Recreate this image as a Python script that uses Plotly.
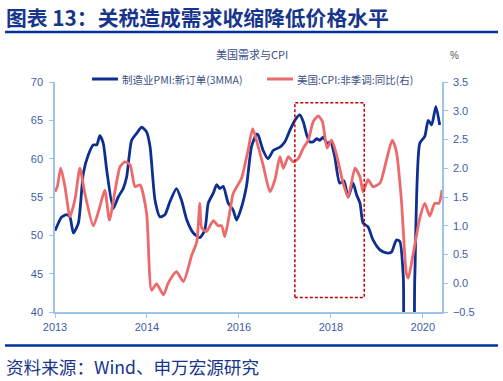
import plotly.graph_objects as go

# ---------------- data ----------------
tick_pos = [0, 24, 48, 72, 96]
tick_labels = ["2013", "2014", "2016", "2018", "2020"]

pmi_x = [0, 1.75, 3.05, 3.9, 4.8, 6.1, 7.4, 8.7, 10.0, 10.9, 11.7, 12.6, 13.5, 15.2, 16.5, 17.8,
         18.7, 20.0, 21.3, 22.6, 23.9, 24.8, 26.1, 27.4, 28.7, 30.0, 31.7, 33.0, 34.4, 36.1,
         37.8, 39.1, 40.0, 41.3, 42.2, 43.0, 43.9, 45.2, 46.5, 47.4, 48.7, 50.0, 51.3, 52.6,
         53.0, 54.3, 55.6, 57.0, 58.7, 60.0, 61.3, 62.6, 63.9, 64.8, 65.7, 66.5, 67.4, 68.3,
         69.1, 70.0, 71.0, 71.9, 73.0, 74.3, 75.4, 76.5, 77.8, 78.7, 79.6, 80.4, 81.7, 83.0,
         84.8, 86.5, 87.8, 89.1, 90.0, 90.9, 91.7, 93.0, 93.9, 95.2, 96.5, 97.4, 98.3, 99.4,
         100.4]
pmi_new_orders = [50.6, 52.4, 52.7, 52.4, 50.3, 51.6, 58.1, 60.5, 61.8, 61.8, 63.0, 62.0, 58.5,
                  53.5, 55.0, 56.1, 57.6, 62.4, 63.3, 64.1, 63.5, 61.6, 54.6, 52.4, 52.7, 54.4,
                  56.1, 54.6, 52.0, 50.3, 49.7, 50.7, 54.2, 55.5, 56.6, 56.1, 56.4, 54.2, 53.3,
                  52.0, 53.7, 56.5, 61.6, 63.2, 63.1, 61.1, 60.0, 61.1, 61.5, 62.2, 63.7, 65.0,
                  65.7, 64.8, 63.1, 62.2, 62.2, 62.6, 62.4, 62.8, 62.0, 62.2, 60.3, 56.8, 57.1,
                  55.0, 56.8, 55.3, 54.2, 51.6, 51.1, 49.4, 48.1, 47.7, 47.8, 49.4, 49.2, 44.6,
                  30.0, 30.0, 44.6, 62.0, 62.9, 65.0, 64.4, 66.8, 64.4]

cpi_x = [0, 0.6, 1.5, 2.6, 3.9, 5.2, 6.5, 7.8, 10.0, 11.7, 13.0, 14.2, 15.7, 17.0, 18.3, 19.6,
         20.9, 22.2, 23.9, 25.2, 26.5, 28.3, 29.6, 31.7, 33.5, 35.7, 37.0, 37.8, 38.3, 39.6,
         41.3, 42.6, 43.5, 44.3, 45.7, 46.5, 48.7, 50.4, 51.6, 53.0, 54.3, 56.1, 57.4, 58.7,
         59.6, 60.9, 62.2, 63.5, 64.8, 66.1, 67.4, 68.7, 69.8, 71.0, 72.2, 73.5, 75.2, 76.5,
         78.3, 79.6, 80.4, 81.7, 83.0, 84.8, 86.5, 88.0, 89.1, 90.4, 91.7, 92.2, 93.5, 95.2,
         96.5, 97.8, 99.1, 100.2, 101.0]
cpi_yoy = [1.59, 1.68, 2.0, 1.68, 1.16, 1.45, 2.0, 1.56, 1.0, 1.33, 1.62, 1.1, 1.62, 2.03, 2.11,
           2.06, 1.68, 1.71, 1.22, -0.12, -0.01, -0.2, 0.01, 0.2, 0.03, 0.49, 0.72, 1.39, 0.96,
           0.9, 1.09, 1.0, 1.0, 0.81, 1.27, 1.56, 1.83, 2.32, 2.69, 2.38, 2.06, 1.59, 1.8, 2.2,
           2.0, 2.2, 2.11, 2.17, 2.35, 2.49, 2.81, 2.91, 2.81, 2.35, 2.49, 2.23, 1.74, 1.5, 2.0,
           1.85, 1.59, 1.8, 1.68, 1.74, 2.14, 2.49, 2.29, 1.45, 0.17, 0.09, 0.52, 1.13, 1.39,
           1.17, 1.39, 1.39, 1.62]

highlight_x = [62.6, 80.7]
highlight_y = [41.9, 67.3]

# ---------------- style ----------------
W, H = 503, 381
L, R, T, B = 55, 442, 82, 312
NAVY = "#0D2F8F"
RED = "#EC6A6C"
AXIS = "#9DC3E6"
TICKC = "#3F5CA8"
CJK = "Noto Sans CJK SC"
LAT = "Liberation Sans, Arial, sans-serif"


def px(xp):
    return (xp - L) / (R - L)


def py(yp):
    return (B - yp) / (B - T)


fig = go.Figure()
fig.add_trace(go.Scatter(x=pmi_x, y=pmi_new_orders, mode="lines", name="制造业PMI:新订单(3MMA)",
                         line=dict(color=NAVY, width=2.8, shape="spline", smoothing=0.6),
                         yaxis="y"))
fig.add_trace(go.Scatter(x=cpi_x, y=cpi_yoy, mode="lines", name="美国:CPI:非季调:同比(右)",
                         line=dict(color=RED, width=2.8, shape="spline", smoothing=0.6),
                         yaxis="y2"))

shapes = [
    dict(type="rect", xref="x", yref="y", x0=highlight_x[0], x1=highlight_x[1],
         y0=highlight_y[0], y1=highlight_y[1],
         line=dict(color="#C00000", width=1.5, dash="3px,2px")),
    # header / footer rules
    dict(type="line", xref="paper", yref="paper", x0=px(5), x1=px(498), y0=py(32), y1=py(32),
         line=dict(color="#00339A", width=2.5)),
    dict(type="line", xref="paper", yref="paper", x0=px(5), x1=px(498), y0=py(345.5), y1=py(345.5),
         line=dict(color="#00339A", width=2.5)),
    # legend samples
    dict(type="line", xref="paper", yref="paper", x0=px(92), x1=px(118), y0=py(79), y1=py(79),
         line=dict(color=NAVY, width=3)),
    dict(type="line", xref="paper", yref="paper", x0=px(267), x1=px(293), y0=py(79), y1=py(79),
         line=dict(color=RED, width=3)),
]

annotations = [
    dict(text="<b>图表 13：关税造成需求收缩降低价格水平</b>", xref="paper", yref="paper",
         x=px(4), y=py(17), xanchor="left", yanchor="middle", showarrow=False,
         font=dict(family=CJK, size=20.8, color="#17358C")),
    dict(text="美国需求与CPI", xref="paper", yref="paper", x=px(252), y=py(54),
         xanchor="center", yanchor="middle", showarrow=False,
         font=dict(family=CJK, size=11, color="#3A4F86")),
    dict(text="%", xref="paper", yref="paper", x=px(455), y=py(55),
         xanchor="center", yanchor="middle", showarrow=False,
         font=dict(family=LAT, size=10, color="#555555")),
    dict(text="制造业PMI:新订单(3MMA)", xref="paper", yref="paper", x=px(120), y=py(79),
         xanchor="left", yanchor="middle", showarrow=False,
         font=dict(family=CJK, size=10.5, color="#3A4F86")),
    dict(text="美国:CPI:非季调:同比(右)", xref="paper", yref="paper", x=px(295), y=py(79),
         xanchor="left", yanchor="middle", showarrow=False,
         font=dict(family=CJK, size=10.5, color="#3A4F86")),
    dict(text="资料来源：Wind、申万宏源研究", xref="paper", yref="paper", x=px(4), y=py(366),
         xanchor="left", yanchor="middle", showarrow=False,
         font=dict(family=CJK, size=17.6, color="#17358C")),
]

fig.update_layout(
    width=W, height=H,
    margin=dict(l=L, r=W - R, t=T, b=H - B, pad=0),
    paper_bgcolor="white", plot_bgcolor="white",
    showlegend=False,
    shapes=shapes, annotations=annotations,
    xaxis=dict(range=[0, 101], tickvals=tick_pos, ticktext=tick_labels,
               showline=True, linecolor=AXIS, linewidth=1.5, ticks="outside", ticklen=4,
               tickcolor=AXIS, showgrid=False, zeroline=False,
               tickfont=dict(family=LAT, size=11, color=TICKC)),
    yaxis=dict(range=[40, 70], dtick=5, tick0=40, showline=True, linecolor=AXIS, linewidth=1.5,
               ticks="outside", ticklen=4, tickcolor=AXIS, showgrid=False, zeroline=False,
               ticklabelstandoff=4,
               tickfont=dict(family=LAT, size=11, color=TICKC)),
    yaxis2=dict(range=[-0.5, 3.5], dtick=0.5, tick0=-0.5, tickformat=".1f", overlaying="y",
                side="right", showline=True, linecolor=AXIS, linewidth=1.5, ticks="outside",
                ticklen=4, tickcolor=AXIS, showgrid=False, zeroline=False,
                ticklabelstandoff=3,
                tickfont=dict(family=LAT, size=11, color=TICKC)),
)

fig.write_html("out.html", config={"displayModeBar": False},
               post_script="document.body.style.margin='0';document.body.style.overflow='hidden';")
